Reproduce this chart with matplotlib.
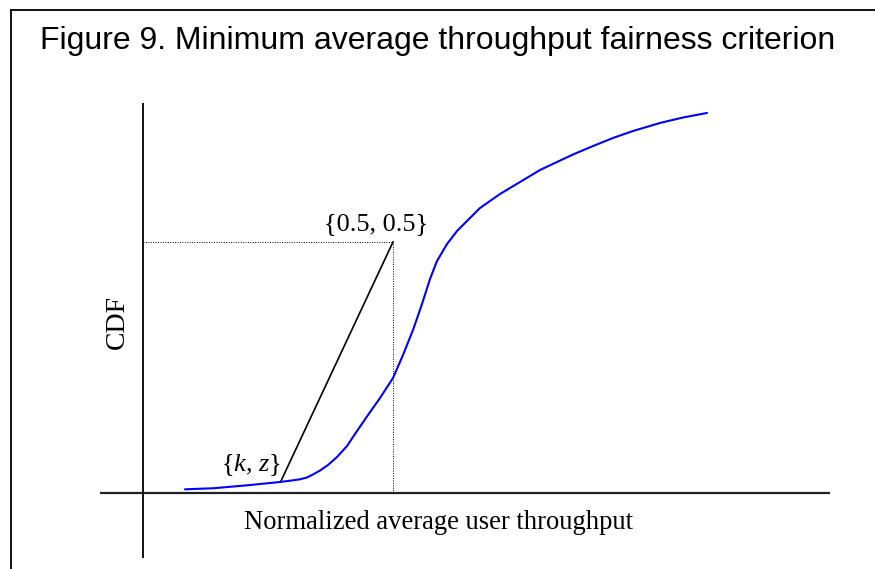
import matplotlib
matplotlib.use("Agg")
import matplotlib.pyplot as plt
from matplotlib.lines import Line2D

# CDF curve (normalized throughput, CDF)
curve_x = [0.084, 0.140, 0.208, 0.274, 0.300, 0.314, 0.328, 0.340, 0.354, 0.370,
           0.388, 0.408, 0.428, 0.450, 0.474, 0.500, 0.520, 0.540, 0.558, 0.574,
           0.588, 0.608, 0.628, 0.650, 0.674, 0.714, 0.754, 0.794, 0.828, 0.860,
           0.900, 0.940, 0.980, 1.034, 1.080, 1.128]
curve_y = [0.0074, 0.0094, 0.0153, 0.0219, 0.0253, 0.0273, 0.0309, 0.0369, 0.0448, 0.0558,
           0.0717, 0.0936, 0.1235, 0.1554, 0.1892, 0.2291, 0.2749, 0.3247, 0.3765, 0.4263,
           0.4622, 0.4960, 0.5219, 0.5438, 0.5677, 0.5956, 0.6195, 0.6434, 0.6594, 0.6743,
           0.6912, 0.7072, 0.7211, 0.7371, 0.7480, 0.7570]

kz_point = (0.276, 0.024)
half_point = (0.5, 0.5)

title = "Figure 9. Minimum average throughput fairness criterion"
xlabel = "Normalized average user throughput"
ylabel = "CDF"
half_label = "{0.5, 0.5}"
kz_label = "{$k$, $z$}"

plt.rcParams['mathtext.fontset'] = 'custom'
plt.rcParams['mathtext.rm'] = 'Liberation Serif'
plt.rcParams['mathtext.it'] = 'Liberation Serif:italic'

W, H = 875, 569
fig = plt.figure(figsize=(W / 100, H / 100), dpi=100)
ax = fig.add_axes([0, 0, 1, 1])
ax.set_axis_off()
ax.set_xlim(-143 / 500, (W - 143) / 500)
ax.set_ylim((493 - H) / 502, 493 / 502)

# axes lines
ax.plot([-0.086, 1.374], [0, 0], color='#222222', lw=1.6, solid_capstyle='butt')
ax.plot([0, 0], [-0.129, 0.777], color='#111111', lw=1.4, solid_capstyle='butt')

# dotted guide lines
ax.plot([0, half_point[0]], [half_point[1], half_point[1]], color='black', lw=0.7,
        linestyle=(0, (1, 1.5)))
ax.plot([half_point[0], half_point[0]], [0, half_point[1]], color='black', lw=0.7,
        linestyle=(0, (1, 1.5)))

# straight line from {k,z} to {0.5,0.5}
ax.plot([kz_point[0], half_point[0]], [kz_point[1], half_point[1]], color='black', lw=1.2)

# CDF curve
ax.plot(curve_x, curve_y, color='#0000ff', lw=1.5, solid_joinstyle='round',
        solid_capstyle='round')

serif = 'Liberation Serif'
ax.text(0.466, 0.536, half_label, fontsize=19, family=serif, ha='center', va='center')
ax.text(0.216, 0.056, kz_label, fontsize=19, family=serif, ha='center', va='center')
ax.text(-0.052, 0.341, ylabel, fontsize=20, family=serif, ha='center', va='center',
        rotation=90)
ax.text(0.592, -0.058, xlabel, fontsize=19.2, family=serif, ha='center', va='center')

fig.text(40 / W, 1 - 41 / H, title, fontsize=23, family='Liberation Sans',
         ha='left', va='center')

# frame (cropped box: left and top edges visible)
fig.add_artist(Line2D([11 / W, 11 / W], [0, 1 - 10 / H], color='black', lw=1.3,
                      transform=fig.transFigure))
fig.add_artist(Line2D([11 / W, 1], [1 - 10 / H, 1 - 10 / H], color='black', lw=1.3,
                      transform=fig.transFigure))

fig.savefig("out.png", dpi=100)
